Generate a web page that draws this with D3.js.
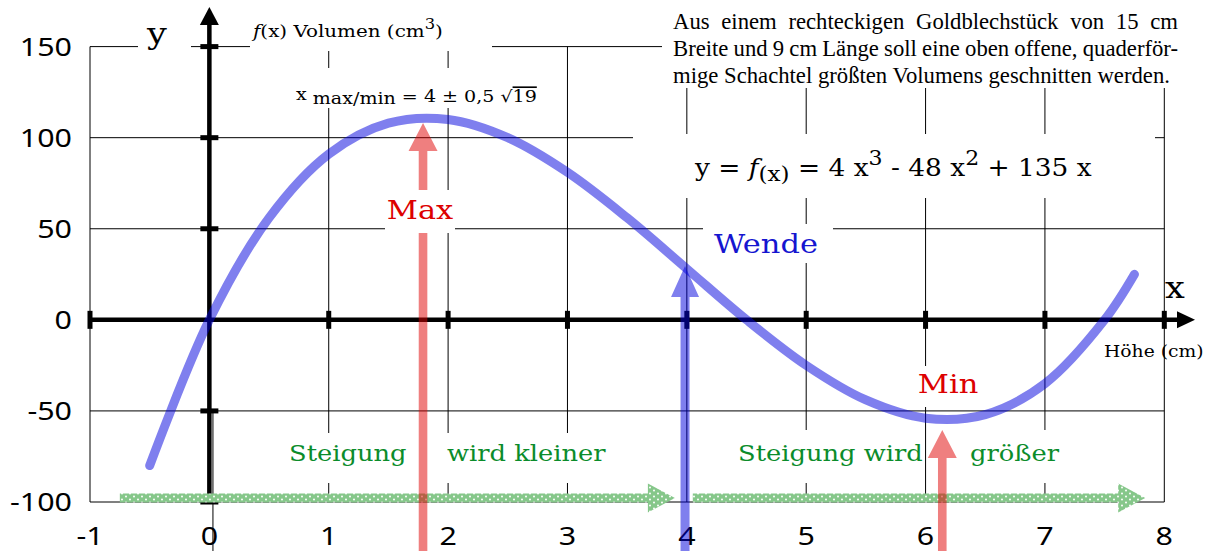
<!DOCTYPE html>
<html>
<head>
<meta charset="utf-8">
<script src="https://cdn.jsdelivr.net/npm/d3@7"></script>
<style>
  body { margin: 0; background: #fff; }
  svg { display: block; }
  text { white-space: pre; }
</style>
</head>
<body>
<script>
// Achsen
var xTicks = [-1, 0, 1, 2, 3, 4, 5, 6, 7, 8];
var yTicks = [-100, -50, 0, 50, 100, 150];

// Kurve f(x) = 4x^3 - 48x^2 + 135x
var curveX = [-0.5, 0, 0.5, 1, 1.5, 2, 2.5, 3, 3.5, 4, 4.5, 5, 5.5, 6, 6.5, 7, 7.5, 7.75];
var curveY = [-80, 0, 56, 91, 108, 110, 100, 81, 56, 28, 0, -25, -44, -54, -52, -35, 0, 25];

// rote Pfeile Max / Min: x-Lage und Spitze
var extremX = [1.79, 6.14];
var extremTip = [108, -60.5];
// blauer Pfeil Wendepunkt
var wendeX = [3.985];
var wendeTip = [29.5];
// gruene Pfeile (Steigung)
var steigStart = [-0.75, 4.05];
var steigEnd = [3.9, 7.84];
var steigY = -97.8;

var paragraph = [
    "Aus einem rechteckigen Goldblechstück von 15 cm",
    "Breite und 9 cm Länge soll eine oben offene, quaderför-",
    "mige Schachtel größten Volumens geschnitten werden."
];

var W = 1221, H = 551;
var S = 1.17; // Schrift ist im Original breit gezogen
var serif = "DejaVu Serif, serif";
var sans = "Noto Sans, sans-serif";
var times = "Liberation Serif, Times New Roman, Times, serif";

var x = d3.scaleLinear().domain([-1, 8]).range([90, 1164.3]);
var y = d3.scaleLinear().domain([-100, 150]).range([502, 46.6]);

var svg = d3.select("body").append("svg")
    .attr("width", W)
    .attr("height", H);

var defs = svg.append("defs");
var pat = defs.append("pattern")
    .attr("id", "dots")
    .attr("patternUnits", "userSpaceOnUse")
    .attr("width", 8)
    .attr("height", 6);
pat.append("rect").attr("width", 8).attr("height", 6).attr("fill", "#86c78a");
pat.append("circle").attr("cx", 2).attr("cy", 1.5).attr("r", 1).attr("fill", "#fff");
pat.append("circle").attr("cx", 6).attr("cy", 4.5).attr("r", 1).attr("fill", "#fff");

// Gitter
var grid = svg.append("g").attr("class", "grid")
    .attr("stroke", "#000")
    .attr("stroke-width", 1);
grid.selectAll("line.v")
    .data(xTicks.filter(d => d != 0)).enter()
    .append("line")
    .attr("class", "v")
    .attr("x1", d => x(d)).attr("x2", d => x(d))
    .attr("y1", y(150)).attr("y2", y(-100));
grid.selectAll("line.h")
    .data(yTicks.filter(d => d != 0)).enter()
    .append("line")
    .attr("class", "h")
    .attr("x1", x(-1)).attr("x2", x(8))
    .attr("y1", d => y(d)).attr("y2", d => y(d));
// kurze Hilfslinie unter der y-Achse
grid.append("line")
    .attr("x1", x(0.03)).attr("x2", x(0.03))
    .attr("y1", y(-50)).attr("y2", H);

// Achsen
var axes = svg.append("g").attr("class", "axes");
axes.append("line")
    .attr("x1", x(-1)).attr("x2", 1178)
    .attr("y1", y(0)).attr("y2", y(0))
    .attr("stroke", "#000").attr("stroke-width", 4.5);
axes.append("path")
    .attr("d", "M1177," + (y(0) - 8.5) + "L1195," + y(0) + "L1177," + (y(0) + 8.5) + "Z")
    .attr("fill", "#000");
axes.append("line")
    .attr("x1", x(0)).attr("x2", x(0))
    .attr("y1", y(-100)).attr("y2", 24)
    .attr("stroke", "#000").attr("stroke-width", 4.5);
axes.append("path")
    .attr("d", "M" + (x(0) - 9.5) + ",25L" + x(0) + ",7L" + (x(0) + 9.5) + ",25Z")
    .attr("fill", "#000");
axes.selectAll("rect.xt")
    .data(xTicks.filter(d => d != 0)).enter()
    .append("rect")
    .attr("class", "xt")
    .attr("x", d => x(d) - 2.5).attr("y", y(0) - 9)
    .attr("width", 5).attr("height", 18);
axes.selectAll("rect.yt")
    .data(yTicks.filter(d => d != 0)).enter()
    .append("rect")
    .attr("class", "yt")
    .attr("x", x(0) - 9).attr("y", d => y(d) - 2.5)
    .attr("width", 18).attr("height", 5);

// Tick-Beschriftung
function stretched(g, px, py, sx) {
    return g.append("g").attr("transform", "translate(" + px + "," + py + ") scale(" + (sx || S) + ",1)");
}
var lbl = svg.append("g").attr("class", "ticklabels")
    .attr("font-family", sans).attr("font-size", 26);
xTicks.forEach(function (d) {
    stretched(lbl, x(d), 545).append("text")
        .attr("text-anchor", "middle")
        .text(d);
});
yTicks.forEach(function (d) {
    stretched(lbl, 72, y(d) + 9).append("text")
        .attr("text-anchor", "end")
        .text(d);
});

// gruene Steigungspfeile
function arrowH(x0, x1, yc, half, headLen, headHalf) {
    return "M" + x0 + "," + (yc - half) +
        "L" + (x1 - headLen) + "," + (yc - half) +
        "L" + (x1 - headLen) + "," + (yc - headHalf) +
        "L" + x1 + "," + yc +
        "L" + (x1 - headLen) + "," + (yc + headHalf) +
        "L" + (x1 - headLen) + "," + (yc + half) +
        "L" + x0 + "," + (yc + half) + "Z";
}
svg.append("g").attr("class", "steigung")
    .selectAll("path")
    .data(steigStart).enter()
    .append("path")
    .attr("d", (d, i) => arrowH(x(d), x(steigEnd[i]), y(steigY), 4.5, 27, 14.5))
    .attr("fill", "url(#dots)");

// Kurve
var line = d3.line()
    .x((d, i) => x(curveX[i]))
    .y(d => y(d))
    .curve(d3.curveCatmullRom.alpha(0.5));
svg.append("path")
    .datum(curveY)
    .attr("d", line)
    .attr("fill", "none")
    .attr("stroke", "#0000dd")
    .attr("stroke-opacity", 0.5)
    .attr("stroke-width", 9)
    .attr("stroke-linecap", "round");

// senkrechte Pfeile (Max, Min, Wende)
function arrowV(xc, tip, half, headLen, headHalf) {
    var y0 = H + 10;
    return "M" + (xc - half) + "," + y0 +
        "L" + (xc - half) + "," + (tip + headLen) +
        "L" + (xc - headHalf) + "," + (tip + headLen) +
        "L" + xc + "," + tip +
        "L" + (xc + headHalf) + "," + (tip + headLen) +
        "L" + (xc + half) + "," + (tip + headLen) +
        "L" + (xc + half) + "," + y0 + "Z";
}
svg.append("g").attr("class", "extrem")
    .selectAll("path")
    .data(extremX).enter()
    .append("path")
    .attr("d", (d, i) => arrowV(x(d), y(extremTip[i]), 4.3, 28, 14.5))
    .attr("fill", "#e00000")
    .attr("fill-opacity", 0.5);
svg.append("g").attr("class", "wende")
    .selectAll("path")
    .data(wendeX).enter()
    .append("path")
    .attr("d", (d, i) => arrowV(x(d), y(wendeTip[i]), 4.5, 31, 14))
    .attr("fill", "#0000dd")
    .attr("fill-opacity", 0.5);

// Beschriftungen mit weissem Hintergrund
var notes = svg.append("g").attr("class", "notes");
function box(b) {
    notes.append("rect")
        .attr("x", b[0]).attr("y", b[1])
        .attr("width", b[2] - b[0]).attr("height", b[3] - b[1])
        .attr("fill", "#fff");
}
function addText(px, py, cfg) {
    var t = stretched(notes, px, py, cfg.sx).append("text")
        .attr("text-anchor", cfg.anchor || "start")
        .attr("font-family", cfg.font || serif)
        .attr("font-size", cfg.size)
        .attr("fill", cfg.color || "#000");
    (cfg.parts || [{ t: cfg.text }]).forEach(function (p) {
        var s = t.append("tspan").text(p.t);
        if (p.it) s.attr("font-style", "italic");
        if (p.dy) s.attr("dy", p.dy);
        if (p.size) s.attr("font-size", p.size);
        if (p.over) s.style("text-decoration", "overline");
    });
    return t;
}

var green = "#0b8c2b", red = "#dd0000", blue = "#1515d0";

box([138, 22, 191, 52]);
addText(157, 44, { text: "y", size: 30, anchor: "middle" });

box([250, 0, 492, 51]);
addText(253, 37, { size: 17, parts: [
    { t: "f", it: true }, { t: "(x) Volumen (cm" }, { t: "3", dy: -8, size: 14 }, { t: ")", dy: 8 }] });

box([288, 68, 545, 108]);
addText(296, 100, { size: 16.3, parts: [
    { t: "x" }, { t: " max/min", dy: 4 }, { t: " = 4 ± 0,5 √", dy: -2 }, { t: "19", over: true }] });

box([633, 134, 1155, 198]);
addText(695, 176, { size: 24, sx: 1.1, parts: [
    { t: "y = " }, { t: "f", it: true }, { t: "(x)", dy: 5, size: 21 }, { t: " = 4 x", dy: -5 },
    { t: "3", dy: -11, size: 20 }, { t: " - 48 x", dy: 11 }, { t: "2", dy: -11, size: 20 }, { t: " + 135 x", dy: 11 }] });

box([385, 190, 455, 233]);
addText(420, 219, { text: "Max", size: 26, color: red, anchor: "middle" });
box([703, 224, 833, 263]);
addText(766, 253, { text: "Wende", size: 26, color: blue, anchor: "middle" });
box([905, 366, 990, 407]);
addText(948, 393, { text: "Min", size: 26, color: red, anchor: "middle" });

box([282, 433, 412, 483]);
addText(289, 461, { text: "Steigung", size: 22, color: green });
box([440, 433, 612, 483]);
addText(447, 461, { text: "wird kleiner", size: 22, color: green });
box([730, 430, 922, 483]);
addText(738, 461, { text: "Steigung wird", size: 22, color: green });
box([962, 430, 1062, 483]);
addText(970, 461, { text: "größer", size: 22, color: green });

addText(1175, 298, { text: "x", size: 30, anchor: "middle" });
addText(1104, 357, { text: "Höhe (cm)", size: 16 });

// Aufgabentext, Blocksatz (letzte Zeile linksbuendig)
box([662, 0, W, 88]);
var para = notes.append("g")
    .attr("font-family", times)
    .attr("font-size", 20);
var lines = paragraph.map(function (txt, i) {
    return para.append("text")
        .attr("x", 673)
        .attr("y", 29 + i * 27)
        .text(txt);
});
// Schriftgroesse so, dass die letzte Zeile bis x=1170 reicht
var fs = 20 * 497 / lines[2].node().getComputedTextLength();
para.attr("font-size", fs);
lines.forEach(function (t, i) {
    if (i < lines.length - 1) {
        var txt = paragraph[i];
        var w = t.node().getComputedTextLength();
        var n = txt.split(" ").length - 1;
        t.attr("word-spacing", ((505 - w) / n) + "px");
    }
});
</script>
</body>
</html>
